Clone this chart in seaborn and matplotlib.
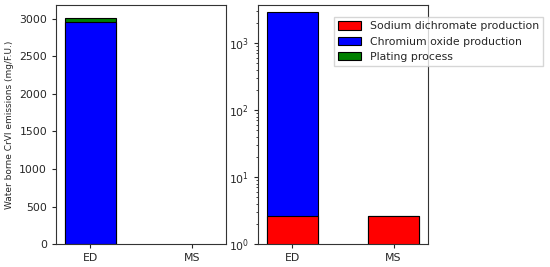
import numpy as np
import pandas as pd
import seaborn as sns
import matplotlib.pyplot as plt
from matplotlib.patches import Patch

sns.set_theme(style="ticks")
plt.rcParams['font.family'] = ['DejaVu Sans']

# stacked layers (mg/F.U.)
processes = ["ED", "MS"]
layer_names = ["Sodium dichromate production", "Chromium oxide production", "Plating process"]
layer_colors = ["red", "blue", "green"]
sodium = [2.6, 2.6]
chromium_oxide = [2960, 0]
plating = [55, 0]

layers = np.array([sodium, chromium_oxide, plating])
cum = np.cumsum(layers, axis=0)

fig, (ax1, ax2) = plt.subplots(1, 2, figsize=(5.5, 2.67), dpi=100)
fig.subplots_adjust(left=0.102, right=0.778, top=0.981, bottom=0.086, wspace=0.188)

ax2.set_yscale("log")

for ax, n_layers in ((ax1, 3), (ax2, 2)):
    # draw totals first, then smaller cumulative sums over them
    for i in range(n_layers - 1, -1, -1):
        df = pd.DataFrame({"process": processes, "value": cum[i]})
        sns.barplot(data=df, x="process", y="value", color=layer_colors[i],
                    saturation=1, width=0.5, edgecolor="black", linewidth=0.8,
                    ax=ax)
    ax.set_xlim(-0.34, 1.34)
    ax.set_xlabel("")
    ax.set_ylabel("")
    ax.tick_params(labelsize=7.8, length=3, width=0.8)
    for s in ax.spines.values():
        s.set_linewidth(0.8)
        s.set_color("#333333")

# tiny MS bars are not visible at linear scale
for p in ax1.patches:
    if p.get_height() < 10:
        p.set_linewidth(0)

ax1.set_ylim(0, 3185)
ax1.set_ylabel("Water borne CrVI emissions (mg/F.U.)", fontsize=6.5)
ax2.set_ylim(1, 3700)
ax2.tick_params(which="minor", length=1.8, width=0.6)

handles = [Patch(facecolor=c, edgecolor="black", linewidth=0.8) for c in layer_colors]
fig.legend(handles, layer_names, loc="upper right",
           bbox_to_anchor=(0.997, 0.955), fontsize=7.8, frameon=True,
           fancybox=False, edgecolor="#cccccc", handlelength=2.2,
           handleheight=0.8, borderpad=0.35, labelspacing=0.5)

fig.savefig("out.png", dpi=100)
